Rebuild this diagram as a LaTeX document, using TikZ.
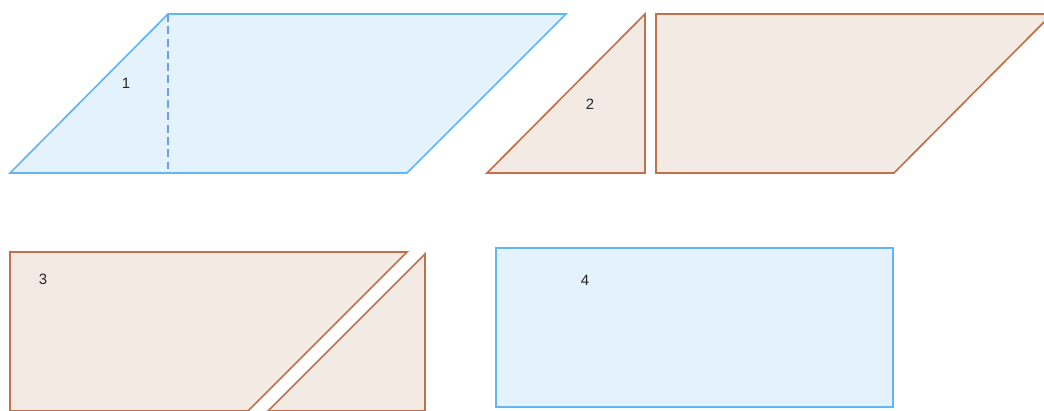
\documentclass[tikz,border=0pt]{standalone}
\usepackage{fontspec}
\setmainfont{Liberation Sans}
\usepackage{tikz}
\definecolor{bluedge}{HTML}{64B5F6}
\definecolor{bluefill}{HTML}{E3F2FD}
\definecolor{dashblue}{HTML}{6D9EEB}
\definecolor{brownedge}{HTML}{C0714B}
\definecolor{brownfill}{HTML}{F3EAE3}
\begin{document}
\begin{tikzpicture}[x=0.02cm,y=-0.02cm]
						\tikzstyle{bluepiece}=[draw=bluedge,fill=bluefill,line width=0.95pt,line join=miter]
						\tikzstyle{brownpiece}=[draw=brownedge,fill=brownfill,line width=0.95pt,line join=miter]
						\tikzstyle{num}=[font=\fontsize{8.5}{10}\selectfont,text=black!85,inner sep=0pt]
						\clip (0,0) rectangle (1044,410);
						% parallelogram 1
						\coordinate (p1) at (10,173);
						\coordinate (p2) at (168,14);
						\coordinate (p3) at (566,14);
						\coordinate (p4) at (407,173);
						\coordinate (h1) at (168,173);
						\draw[bluepiece] (p1) -- (p2) -- (p3) -- (p4) -- cycle;
						\draw[dashblue,line width=1.3pt,dash pattern=on 4.5pt off 2.5pt] (p2) -- (h1);
						\node[num](n1) at (126,83){1};
						% triangle 2 and the rest
						\coordinate (t1) at (487,173);
						\coordinate (t2) at (645,14);
						\coordinate (t3) at (645,173);
						\draw[brownpiece] (t1) -- (t2) -- (t3) -- cycle;
						\node[num](n2) at (590,104){2};
						\coordinate (q1) at (656,173);
						\coordinate (q2) at (656,14);
						\coordinate (q3) at (1052,14);
						\coordinate (q4) at (894,173);
						\draw[brownpiece] (q1) -- (q2) -- (q3) -- (q4) -- cycle;
						% rectangle 3, cut in two
						\coordinate (r1) at (10,252);
						\coordinate (r2) at (407,252);
						\coordinate (r3) at (248,411);
						\coordinate (r4) at (10,411);
						\draw[brownpiece] (r1) -- (r2) -- (r3) -- (r4) -- cycle;
						\coordinate (s1) at (425,254);
						\coordinate (s2) at (425,411);
						\coordinate (s3) at (268,411);
						\draw[brownpiece] (s1) -- (s2) -- (s3) -- cycle;
						\node[num](n3) at (43,279){3};
						% rectangle 4
						\coordinate (u1) at (496,248);
						\coordinate (u2) at (893,407);
						\draw[bluepiece] (u1) rectangle (u2);
						\node[num](n4) at (585,280){4};
					\end{tikzpicture}
\end{document}
